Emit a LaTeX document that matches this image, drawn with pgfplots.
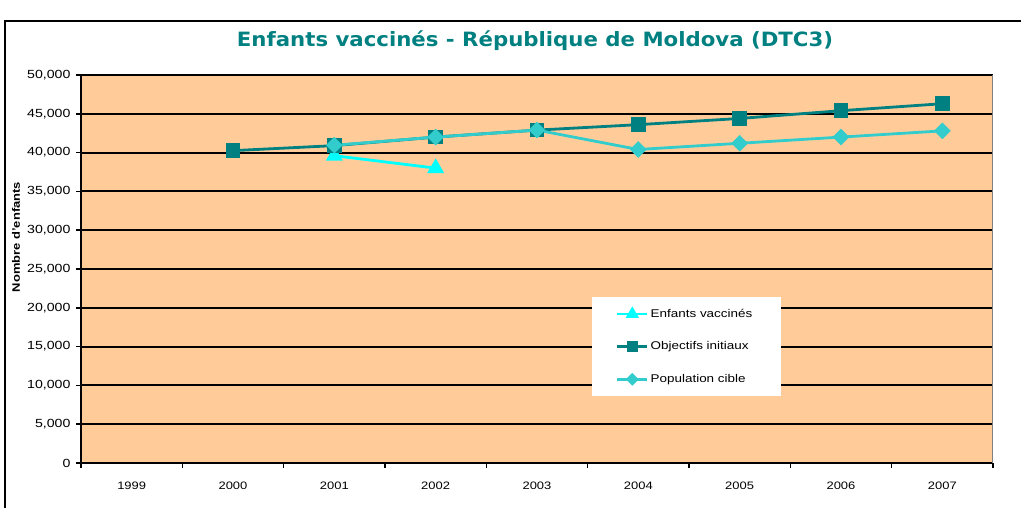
\documentclass[border=0pt]{standalone}
\usepackage{fontspec}
\setmainfont{Liberation Sans}[FakeStretch=1.2]
\newfontfamily\titlefont{DejaVu Sans}[FakeStretch=1.08]
\usepackage{pgfplots}
\pgfplotsset{compat=1.18}
\definecolor{bgor}{HTML}{FFCC99}
\definecolor{tealc}{HTML}{008080}
\definecolor{popc}{HTML}{33CCCC}
\definecolor{vacc}{HTML}{00FFFF}
\newcommand{\lbl}{\fontsize{10.8}{13}\selectfont}
\begin{document}
\begin{tikzpicture}[x=1pt,y=1pt]
\useasboundingbox (0,0) rectangle (1021,508);
\fill[white] (0,0) rectangle (1021,508);
\draw[line width=2pt] (5,-20) -- (5,487) -- (1040,487);
\node[font=\titlefont\bfseries\fontsize{19.7}{23}\selectfont, text=tealc] at (535,467) {Enfants vaccinés - République de Moldova (DTC3)};
\node[rotate=90, font=\bfseries\lbl] at (16,271) {Nombre d'enfants};
\begin{axis}[
  at={(81pt,45pt)}, anchor=south west,
  scale only axis, width=912pt, height=388pt,
  xmin=-0.5, xmax=8.5, ymin=0, ymax=50000,
  axis background/.style={fill=bgor},
  axis x line*=bottom, axis y line*=left,
  axis line style={black, line width=2.2pt},
  xtick={0,...,8},
  xticklabels={1999,2000,2001,2002,2003,2004,2005,2006,2007},
  major x tick style={draw=none},
  minor xtick={-0.5,0.5,...,8.5},
  minor x tick style={black, line width=1.5pt},
  ytick={0,5000,...,50000},
  y tick style={black, line width=1.5pt},
  tick align=outside, major tick length=5pt, minor tick length=5pt,
  ymajorgrids, grid style={black, line width=2pt},
  scaled y ticks=false,
  yticklabel={\pgfmathprintnumber[1000 sep={,},assume math mode=true]{\tick}},
  xticklabel style={font=\lbl, yshift=-10pt},
  yticklabel style={font=\fontsize{11.8}{14}\selectfont, xshift=-2pt},
  legend style={at={(rel axis cs:0.560,0.428)}, anchor=north west, fill=white, draw=none,
    font=\fontsize{11.2}{13}\selectfont, inner xsep=24pt, inner ysep=10pt, row sep=19pt,
    text width=104pt, cells={anchor=west}},
  legend cell align=left,
  legend image code/.code={\draw[mark repeat=2,mark phase=2, every mark/.append style={scale=0.7}] plot coordinates {(0pt,0pt) (15pt,0pt) (30pt,0pt)};},
]
\draw[gray, line width=1pt] (rel axis cs:1,0) -- (rel axis cs:1,1);
\addplot[vacc, line width=2.8pt, mark=triangle*, mark size=7pt, mark options={solid}] coordinates {(2,39600) (3,38000)};
\addlegendentry{Enfants vaccinés}
\addplot[tealc, line width=2.8pt, mark=square*, mark size=6pt] coordinates {(1,40250) (2,40900) (3,42000) (4,42900) (5,43600) (6,44400) (7,45400) (8,46300)};
\addlegendentry{Objectifs initiaux}
\addplot[popc, line width=2.8pt, mark=square*, mark size=4.5pt, mark options={rotate=45}] coordinates {(2,40950) (3,42000) (4,42900) (5,40400) (6,41200) (7,42000) (8,42800)};
\addlegendentry{Population cible}
\end{axis}
\end{tikzpicture}
\end{document}
